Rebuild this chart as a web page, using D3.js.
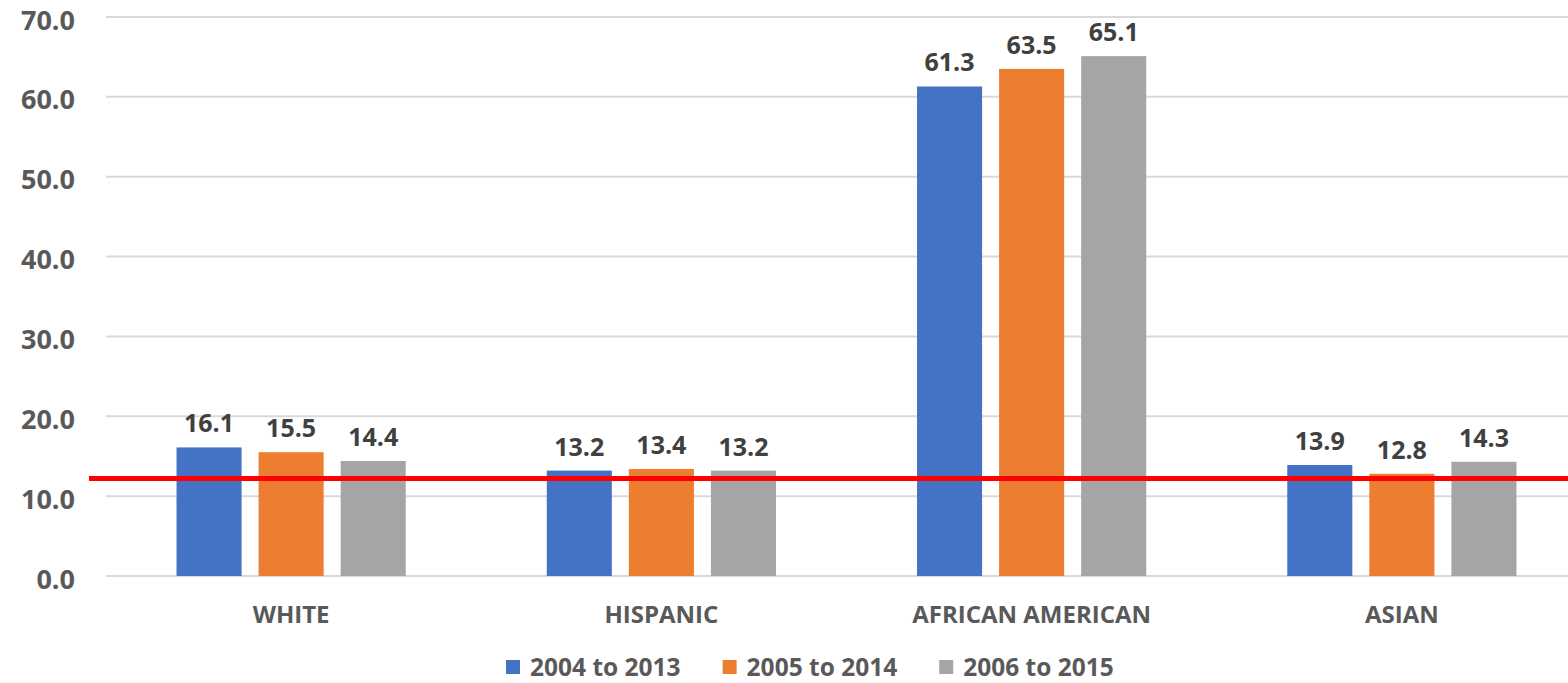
<!DOCTYPE html>
<html>
<head>
<meta charset="utf-8">
<script src="https://cdn.jsdelivr.net/npm/d3@7"></script>
<style>
  html, body { margin: 0; padding: 0; background: #ffffff; }
  svg { display: block; }
  text { font-family: "Open Sans", "Noto Sans", sans-serif; font-weight: bold; }
</style>
</head>
<body>
<svg id="chart" width="1568" height="683"></svg>
<script>
// ---- data ----
const categories = ["WHITE", "HISPANIC", "AFRICAN AMERICAN", "ASIAN"];
const seriesNames = ["2004 to 2013", "2005 to 2014", "2006 to 2015"];
const series2004 = [16.1, 13.2, 61.3, 13.9];
const series2005 = [15.5, 13.4, 63.5, 12.8];
const series2006 = [14.4, 13.2, 65.1, 14.3];
const seriesColors = ["#4472C4", "#ED7D31", "#A5A5A5"];
const yTicks = [0, 10, 20, 30, 40, 50, 60, 70];
const referenceValue = 12.2;

const seriesValues = [series2004, series2005, series2006];

// ---- layout ----
const W = 1568, H = 683;
const plotLeft = 106, plotRight = 1587, plotTop = 17, plotBottom = 576;

const svg = d3.select("#chart");

const y = d3.scaleLinear().domain([0, 70]).range([plotBottom, plotTop]);
const x0 = d3.scaleBand().domain(categories).range([plotLeft, plotRight])
  .paddingInner(0.335).paddingOuter(0.1675);
const x1 = d3.scaleBand().domain(seriesNames).range([0, x0.bandwidth()])
  .paddingInner(17 / 82).paddingOuter(17 / 164);

// gridlines
svg.append("g").selectAll("line").data(yTicks).join("line")
  .attr("x1", plotLeft).attr("x2", W)
  .attr("y1", d => y(d)).attr("y2", d => y(d))
  .attr("stroke", "#D9D9D9").attr("stroke-width", 2);

// y axis labels
const yAxis = d3.axisLeft(y).tickValues(yTicks).tickFormat(d3.format(".1f")).tickSize(0).tickPadding(0);
const yg = svg.append("g").attr("transform", `translate(75,0)`).call(yAxis);
yg.select(".domain").remove();
yg.selectAll("text")
  .attr("fill", "#595959").attr("font-size", 27)
  .attr("font-family", "'Open Sans', sans-serif").attr("font-weight", "bold")
  .attr("dy", 12).attr("text-anchor", "end");

// bars
const rows = categories.map((c, i) => ({
  cat: c,
  vals: seriesNames.map((s, j) => ({ s, j, v: seriesValues[j][i] }))
}));

const groups = svg.append("g").selectAll("g").data(rows).join("g")
  .attr("transform", d => `translate(${x0(d.cat)},0)`);

groups.selectAll("rect").data(d => d.vals).join("rect")
  .attr("x", d => x1(d.s))
  .attr("width", x1.bandwidth())
  .attr("y", d => y(d.v))
  .attr("height", d => y(0) - y(d.v))
  .attr("fill", d => seriesColors[d.j]);

groups.selectAll("text").data(d => d.vals).join("text")
  .attr("x", d => x1(d.s) + x1.bandwidth() / 2)
  .attr("y", d => y(d.v) - 15)
  .attr("text-anchor", "middle")
  .attr("font-size", 25)
  .attr("fill", "#404040")
  .text(d => d3.format(".1f")(d.v));

// category labels
const xAxis = d3.axisBottom(x0).tickSize(0).tickPadding(0);
const xg = svg.append("g").attr("transform", `translate(0,${plotBottom})`).call(xAxis);
xg.select(".domain").remove();
xg.selectAll("text")
  .attr("fill", "#595959").attr("font-size", 24)
  .attr("font-family", "'Open Sans', sans-serif").attr("font-weight", "bold")
  .attr("y", 47).attr("dy", 0);

// reference line
svg.append("line")
  .attr("x1", plotLeft - 17).attr("x2", W)
  .attr("y1", y(referenceValue)).attr("y2", y(referenceValue))
  .attr("stroke", "#FF0000").attr("stroke-width", 5);

// legend
const legend = svg.append("g").attr("transform", "translate(506,0)");
let lx = 0;
seriesNames.forEach((name, i) => {
  const g = legend.append("g").attr("transform", `translate(${lx},0)`);
  g.append("rect").attr("x", 0).attr("y", 660).attr("width", 14).attr("height", 14)
    .attr("fill", seriesColors[i]);
  const t = g.append("text").attr("x", 24).attr("y", 676)
    .attr("font-size", 24.5).attr("fill", "#595959").text(name);
  lx += 24 + t.node().getComputedTextLength() + 42;
});
</script>
</body>
</html>
